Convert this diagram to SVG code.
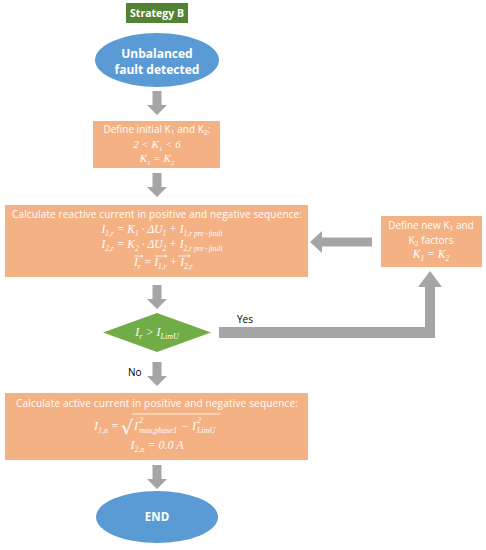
<svg xmlns="http://www.w3.org/2000/svg" width="486" height="550" viewBox="0 0 486 550">
<style>
.box{fill:#F4B183}
.arr{fill:#A5A5A5}
.t{font-family:"Open Sans","Liberation Sans",sans-serif;fill:#fff}
.b{font-weight:bold}
.m{font-family:"Liberation Serif","DejaVu Serif",serif;font-style:italic;fill:#fff}
.lab{font-family:"Open Sans","Liberation Sans",sans-serif;fill:#000;font-size:10px}
</style>
<rect width="486" height="550" fill="#fff"/>
<g id="connectors">
<path class="arr" d="M152.5 91 H161.5 V105 H167 L157 115 L147 105 H152.5 Z"/>
<path class="arr" d="M152.5 173 H161.5 V187 H167 L157 197 L147 187 H152.5 Z"/>
<path class="arr" d="M152.5 285 H161.5 V299 H167 L157 309 L147 299 H152.5 Z"/>
<path class="arr" d="M152.5 362 H161.5 V376 H167 L157 386 L147 376 H152.5 Z"/>
<path class="arr" d="M152.5 465 H161.5 V479 H167 L157 489 L147 479 H152.5 Z"/>
<path class="arr" d="M372 237.5 H322 V231 L310 242 L322 253 V246.5 H372 Z"/>
<path class="arr" d="M219 327 H425 V287 H418 L430 271 L442 287 H435 V338 H219 Z"/>
<text class="lab" x="237" y="323">Yes</text>
<text class="lab" x="128" y="376">No</text>
</g>
<g id="title">
<rect x="126" y="3" width="62" height="20" fill="#548235"/>
<text class="t b" x="157" y="17" font-size="10.5" text-anchor="middle">Strategy B</text>
</g>
<g id="start">
<ellipse cx="157" cy="60" rx="62" ry="27" fill="#5B9BD5"/>
<text class="t b" x="157" y="58" font-size="12" text-anchor="middle">Unbalanced</text>
<text class="t b" x="157" y="74" font-size="12" text-anchor="middle">fault detected</text>
</g>
<g id="define-initial">
<rect class="box" x="93" y="121" width="127" height="47"/>
<text class="t" x="157" y="133" font-size="10" text-anchor="middle">Define initial K<tspan font-size="7" dy="2">1</tspan><tspan dy="-2"> and K</tspan><tspan font-size="7" dy="2">2</tspan><tspan dy="-2">:</tspan></text>
<text class="m" x="157" y="148" font-size="11" text-anchor="middle">2 &lt; K<tspan font-size="7" dy="2.5">1</tspan><tspan dy="-2.5"> &lt; 6</tspan></text>
<text class="m" x="157" y="162" font-size="11" text-anchor="middle">K<tspan font-size="7" dy="2.5">1</tspan><tspan dy="-2.5"> = K</tspan><tspan font-size="7" dy="2.5">2</tspan></text>
</g>
<g id="reactive">
<rect class="box" x="5" y="205" width="303" height="72"/>
<text class="t" x="157" y="218" font-size="10" text-anchor="middle" textLength="290">Calculate reactive current in positive and negative sequence:</text>
<text class="m" x="162" y="233" font-size="11.5" text-anchor="middle">I<tspan font-size="7.5" dy="2.5">1,r</tspan><tspan dy="-2.5"> = K</tspan><tspan font-size="7.5" dy="2.5">1</tspan><tspan dy="-2.5"> · ΔU</tspan><tspan font-size="7.5" dy="2.5">1</tspan><tspan dy="-2.5"> + I</tspan><tspan font-size="7.5" dy="2.5">1,r pre−fault</tspan></text>
<text class="m" x="162" y="248" font-size="11.5" text-anchor="middle">I<tspan font-size="7.5" dy="2.5">2,r</tspan><tspan dy="-2.5"> = K</tspan><tspan font-size="7.5" dy="2.5">2</tspan><tspan dy="-2.5"> · ΔU</tspan><tspan font-size="7.5" dy="2.5">2</tspan><tspan dy="-2.5"> + I</tspan><tspan font-size="7.5" dy="2.5">2,r pre−fault</tspan></text>
<text class="m" x="134" y="266" font-size="11.5">I<tspan font-size="7.5" dy="2.5">r</tspan><tspan dy="-2.5"> = I</tspan><tspan font-size="7.5" dy="2.5">1,r</tspan><tspan dy="-2.5"> + I</tspan><tspan font-size="7.5" dy="2.5">2,r</tspan></text>
<g stroke="#fff" stroke-width="0.8" fill="none">
<path d="M134 256 H143 M141 254.5 L143 256 L141 257.5"/>
<path d="M155 256 H167 M165 254.5 L167 256 L165 257.5"/>
<path d="M178 256 H190 M188 254.5 L190 256 L188 257.5"/>
</g>
</g>
<g id="define-new">
<rect class="box" x="381" y="216" width="101" height="51"/>
<text class="t" x="431" y="229" font-size="10" text-anchor="middle">Define new K<tspan font-size="7" dy="2">1</tspan><tspan dy="-2"> and</tspan></text>
<text class="t" x="431" y="244" font-size="10" text-anchor="middle">K<tspan font-size="7" dy="2">2</tspan><tspan dy="-2"> factors</tspan></text>
<text class="m" x="431" y="258" font-size="11.5" text-anchor="middle">K<tspan font-size="7.5" dy="2.5">1</tspan><tspan dy="-2.5"> = K</tspan><tspan font-size="7.5" dy="2.5">2</tspan></text>
</g>
<g id="decision">
<polygon points="157,313 211,332.5 157,352 103,332.5" fill="#70AD47"/>
<text class="m" x="157" y="336" font-size="12" text-anchor="middle">I<tspan font-size="8" dy="3">r</tspan><tspan dy="-3"> &gt; I</tspan><tspan font-size="8" dy="3">LimU</tspan></text>
</g>
<g id="active">
<rect class="box" x="5" y="393" width="303" height="67"/>
<text class="t" x="157" y="407" font-size="10" text-anchor="middle" textLength="282">Calculate active current in positive and negative sequence:</text>
<text class="m" x="94" y="430" font-size="12">I<tspan font-size="8" dy="3">1,a</tspan><tspan dy="-3"> =</tspan></text>
<text x="121" y="434" font-size="19" fill="#fff" font-family="DejaVu Sans,sans-serif">√</text>
<line x1="132" y1="414" x2="220" y2="414" stroke="#fff" stroke-width="0.8"/>
<text class="m" x="134" y="430" font-size="12">I</text>
<text class="m" x="139" y="423" font-size="8">2</text>
<text class="m" x="139" y="433" font-size="8">max,phase1</text>
<text class="m" x="181" y="430" font-size="12">−</text>
<text class="m" x="192" y="430" font-size="12">I</text>
<text class="m" x="197" y="423" font-size="8">2</text>
<text class="m" x="197" y="433" font-size="8">LimU</text>
<text class="m" x="157" y="449" font-size="12" text-anchor="middle">I<tspan font-size="8" dy="3">2,a</tspan><tspan dy="-3"> = 0.0 A</tspan></text>
</g>
<g id="end">
<ellipse cx="157" cy="517" rx="61" ry="26" fill="#5B9BD5"/>
<text class="t b" x="157" y="521" font-size="11.5" text-anchor="middle">END</text>
</g>
</svg>
